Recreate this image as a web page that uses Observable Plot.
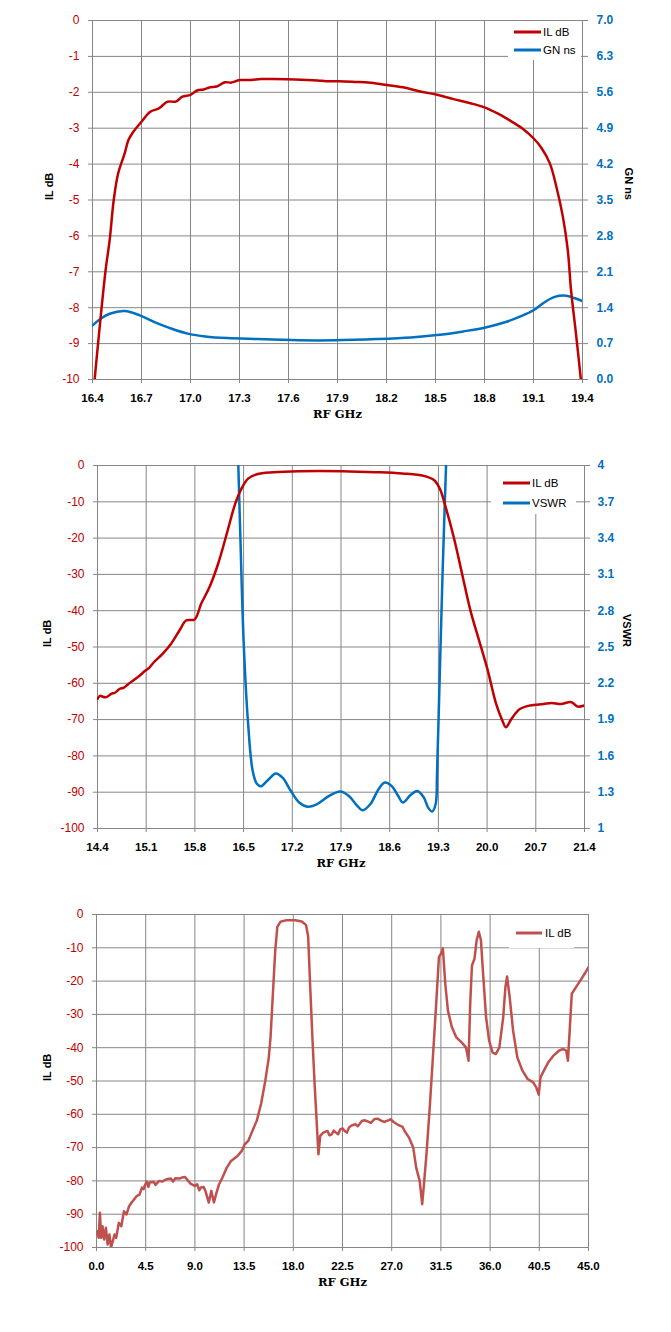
<!DOCTYPE html>
<html>
<head>
<meta charset="utf-8">
<script src="https://cdn.jsdelivr.net/npm/d3@7"></script>
<script src="https://cdn.jsdelivr.net/npm/@observablehq/plot@0.6"></script>
<style>
  html, body { margin: 0; padding: 0; background: #fff; }
  #page { position: relative; width: 671px; height: 1332px; background: #fff; overflow: hidden; }
  .chart { position: absolute; left: 0; }
  .legend { position: absolute; background: #fff; }
  .legend svg { display: block; overflow: visible; }
</style>
</head>
<body>
<div id="page">
  <div class="chart" id="c1" style="top:0px"></div>
  <div class="chart" id="c2" style="top:440px"></div>
  <div class="chart" id="c3" style="top:890px"></div>
</div>
<script>
// ---------------- DATA ----------------
// Chart 1 : passband IL (dB) and group delay GN (ns)
const c1XTicks = [16.4, 16.7, 17.0, 17.3, 17.6, 17.9, 18.2, 18.5, 18.8, 19.1, 19.4];
const c1YTicks = [0, -1, -2, -3, -4, -5, -6, -7, -8, -9, -10];
const c1RightLabels = ["7.0", "6.3", "5.6", "4.9", "4.2", "3.5", "2.8", "2.1", "1.4", "0.7", "0.0"];
const c1IlFreq = [16.413,16.44,16.48,16.505,16.53,16.557,16.597,16.62,16.65,16.70,16.754,16.806,16.86,16.91,16.95,17.00,17.04,17.08,17.12,17.16,17.21,17.25,17.30,17.37,17.43,17.51,17.64,17.78,17.83,17.91,18.01,18.09,18.19,18.30,18.40,18.51,18.61,18.72,18.80,18.88,18.95,19.03,19.10,19.15,19.20,19.24,19.28,19.31,19.33,19.36,19.39];
const c1Il = [-10,-8.72,-6.96,-6.12,-5.0,-4.26,-3.7,-3.33,-3.1,-2.82,-2.54,-2.45,-2.26,-2.26,-2.12,-2.07,-1.95,-1.92,-1.86,-1.84,-1.72,-1.73,-1.66,-1.66,-1.63,-1.63,-1.64,-1.67,-1.69,-1.69,-1.71,-1.73,-1.79,-1.86,-1.97,-2.07,-2.19,-2.31,-2.42,-2.59,-2.77,-3.0,-3.28,-3.56,-3.98,-4.63,-5.47,-6.4,-7.52,-8.72,-10];
const c1GnFreq = [16.40,16.45,16.505,16.597,16.69,16.78,16.885,16.99,17.09,17.225,17.41,17.62,17.78,17.93,18.14,18.35,18.51,18.67,18.80,18.93,19.02,19.10,19.16,19.23,19.30,19.35,19.40];
const c1Gn = [1.055,1.185,1.283,1.335,1.25,1.12,0.99,0.89,0.84,0.807,0.788,0.768,0.762,0.768,0.788,0.82,0.866,0.938,1.01,1.12,1.23,1.35,1.49,1.61,1.634,1.59,1.53];

// Chart 2 : wide IL (dB) and VSWR
const c2XTicks = [14.4, 15.1, 15.8, 16.5, 17.2, 17.9, 18.6, 19.3, 20.0, 20.7, 21.4];
const c2YTicks = [0, -10, -20, -30, -40, -50, -60, -70, -80, -90, -100];
const c2RightLabels = ["4", "3.7", "3.4", "3.1", "2.8", "2.5", "2.2", "1.9", "1.6", "1.3", "1"];
const c2IlFreq = [14.4,14.44,14.474,14.53,14.597,14.65,14.72,14.78,14.843,14.966,15.09,15.15,15.21,15.335,15.458,15.58,15.673,15.796,15.89,16.01,16.135,16.258,16.38,16.47,16.565,16.69,16.93,17.3,17.92,18.41,18.78,19.09,19.24,19.33,19.39,19.52,19.64,19.76,19.885,20.01,20.13,20.22,20.27,20.35,20.47,20.62,20.81,20.93,21.06,21.21,21.3,21.4];
const c2Il = [-64.3,-63.4,-63.7,-63.8,-62.9,-62.6,-61.5,-61.2,-60.2,-58.5,-56.5,-55.6,-54.2,-51.9,-49.1,-45.4,-42.7,-42.4,-38.1,-33.5,-27.0,-18.8,-10.5,-6.35,-3.6,-2.4,-1.84,-1.56,-1.56,-1.84,-2.2,-2.85,-4.05,-6.8,-10.5,-19.7,-29.8,-39.9,-48.2,-56.5,-65.7,-70.3,-72.1,-69.8,-67.1,-66.1,-65.7,-65.4,-65.7,-65.2,-66.4,-66.1];
const c2VFreq = [16.424,16.455,16.50,16.565,16.63,16.69,16.75,16.84,16.965,17.06,17.18,17.30,17.42,17.55,17.73,17.89,18.01,18.13,18.21,18.32,18.44,18.53,18.63,18.72,18.79,18.90,18.995,19.09,19.15,19.21,19.26,19.28,19.32,19.36,19.41];
const c2Vswr = [4.0,3.38,2.55,1.864,1.478,1.37,1.35,1.395,1.455,1.42,1.31,1.215,1.18,1.2,1.27,1.306,1.27,1.19,1.15,1.2,1.325,1.38,1.35,1.27,1.215,1.276,1.31,1.257,1.175,1.14,1.2,1.45,2.28,3.11,4.0];

// Chart 3 : broadband IL (dB)
const c3XTicks = [0, 4.5, 9, 13.5, 18, 22.5, 27, 31.5, 36, 40.5, 45];
const c3YTicks = [0, -10, -20, -30, -40, -50, -60, -70, -80, -90, -100];
const c3Freq = [0.08,0.2,0.31,0.43,0.55,0.7,0.86,1.02,1.18,1.33,1.49,1.65,1.8,2.04,2.27,2.51,2.74,2.98,3.21,3.45,3.68,3.92,
  4.16,4.3,4.47,4.6,4.75,4.86,5.0,5.25,5.4,5.72,6.0,6.43,6.8,7.0,7.21,7.6,7.8,8.1,8.39,8.6,8.98,9.2,9.4,9.56,9.8,9.96,
  10.27,10.5,10.74,10.98,11.21,11.52,11.92,12.31,12.9,13.29,13.56,13.88,14.19,14.66,15.05,15.44,15.76,15.92,16.15,16.35,16.54,16.82,17.4,18.19,18.78,19.17,19.36,19.56,19.76,19.95,20.15,20.3,20.46,
  20.74,21.13,21.3,21.52,21.7,21.91,22.1,22.3,22.5,22.7,22.9,23.09,23.3,23.68,23.9,24.27,24.5,24.85,25.1,25.44,25.7,26.03,26.3,26.62,26.9,27.2,27.5,27.79,28.0,28.18,
  28.58,28.97,29.24,29.56,29.79,29.95,30.18,30.46,30.73,31.05,31.32,31.52,31.68,31.9,32.14,32.5,32.89,33.48,33.79,34.03,34.18,34.34,34.57,34.77,34.97,35.16,35.36,35.63,35.91,36.22,36.53,36.85,37.2,37.4,37.55,37.79,38.1,38.49,38.96,39.43,39.94,40.22,40.45,40.61,40.92,41.32,41.79,42.3,42.69,42.96,43.12,43.28,43.47,43.86,44.26,44.65,45.0];
const c3Il = [-95.1,-97.1,-89.6,-97.1,-93.6,-97.6,-94.1,-99.1,-96.1,-100,-98.1,-96.1,-97.1,-92.6,-93.6,-89.1,-90.1,-87.6,-86.5,-85.5,-84.5,-84.2,
  -82.0,-82.5,-81.0,-80.2,-81.8,-80.5,-80.4,-80.3,-81.2,-80.0,-80.2,-79.5,-79.3,-80.2,-79.2,-79.3,-79.0,-78.8,-80.0,-80.8,-81.5,-81.0,-82.8,-82.0,-81.8,-83.0,
  -86.5,-83.0,-86.5,-83.5,-81.0,-79.0,-76.0,-74.0,-72.5,-71.0,-69.0,-68.0,-65.5,-61.9,-56.9,-49.9,-42.9,-36.8,-22.8,-10.7,-3.7,-2.2,-1.7,-1.7,-2.1,-3.2,-6.7,-22.8,-37.9,-50.9,-63,-72,-66.5,
  -65.5,-65.0,-66.3,-66.0,-64.9,-65.5,-66.0,-64.5,-64.2,-65.0,-65.5,-64.0,-63.4,-63.0,-63.6,-62.0,-61.8,-62.2,-62.6,-61.4,-61.3,-61.9,-62.3,-61.9,-61.5,-62.4,-63.0,-63.5,-63.8,-65.0,
  -67.0,-70.0,-76.0,-80.0,-87.0,-81.0,-72.0,-58.9,-44.9,-27.8,-12.8,-11.7,-10.2,-20.8,-28.8,-33.8,-36.8,-38.7,-39.9,-43.9,-26.8,-15.3,-13.3,-7.7,-5.2,-7.7,-17.8,-30.8,-37.9,-41.4,-41.9,-39.9,-30.8,-21.8,-18.6,-24.8,-34.8,-42.9,-46.9,-49.4,-50.4,-51.9,-54.1,-48.9,-46.9,-44.4,-42.4,-40.9,-40.4,-40.9,-43.9,-34.8,-23.8,-21.8,-19.8,-17.8,-15.8];

// ---------------- STYLE ----------------
const RED = "#c00000";
const BLUE = "#0070c0";
const RED3 = "#c0504d";
const GRID = "#868686";
const SANS = "'Liberation Sans', Arial, sans-serif";
const SERIF = "'DejaVu Serif', 'Liberation Serif', serif";

function zip(xs, ys) { return xs.map((x, i) => ({x, y: ys[i]})); }

function baseMarks(xTicks, yTicks, xFmt) {
  return [
    Plot.gridX({ticks: xTicks, stroke: GRID, strokeOpacity: 1, strokeWidth: 1}),
    Plot.gridY({ticks: yTicks, stroke: GRID, strokeOpacity: 1, strokeWidth: 1}),
    Plot.axisX({ticks: xTicks, tickFormat: xFmt, tickSize: 4, tickPadding: 10, color: "#000", stroke: GRID,
      fontWeight: "bold", fontSize: 11.5, fontFamily: SANS, label: null}),
    Plot.axisY({anchor: "left", ticks: yTicks, tickFormat: d => String(d), tickSize: 4, tickPadding: 9,
      color: RED, stroke: GRID, fontSize: 12, fontFamily: SANS, label: null})
  ];
}

function titleMarks(leftDx, rightTitle, rightDx) {
  const m = [
    Plot.text(["RF GHz"], {text: d => d, frameAnchor: "bottom", dy: 38, fontFamily: SERIF, fontWeight: "bold", fontSize: 11.5, fill: "#000"}),
    Plot.text(["IL dB"], {text: d => d, frameAnchor: "left", dx: leftDx, rotate: -90, fontFamily: SANS, fontWeight: "bold", fontSize: 11, fill: "#000"})
  ];
  if (rightTitle) m.push(Plot.text([rightTitle], {text: d => d, frameAnchor: "right", dx: rightDx, rotate: 90, fontFamily: SANS, fontWeight: "bold", fontSize: 11, fill: "#000"}));
  return m;
}

// ---------------- CHART 1 ----------------
const c1IlData = zip(c1IlFreq, c1Il);
const c1GnData = zip(c1GnFreq, c1Gn);
const chart1 = Plot.plot({
  width: 671, height: 440,
  marginTop: 20, marginBottom: 61, marginLeft: 92, marginRight: 89,
  style: {fontFamily: SANS, background: "transparent", overflow: "visible"},
  x: {domain: [16.4, 19.4]},
  y: {domain: [-10, 0]},
  marks: [
    ...baseMarks(c1XTicks, c1YTicks, d => d.toFixed(1)),
    Plot.axisY({anchor: "right", ticks: c1YTicks, tickFormat: d => c1RightLabels[c1YTicks.indexOf(d)],
      tickSize: 5, tickPadding: 9, color: BLUE, stroke: GRID, fontWeight: "bold", fontSize: 12, fontFamily: SANS, label: null}),
    Plot.line(c1GnData, {x: "x", y: d => -10 + d.y * 10 / 7, stroke: BLUE, strokeWidth: 2.5, curve: "catmull-rom", clip: true}),
    Plot.line(c1IlData, {x: "x", y: "y", stroke: RED, strokeWidth: 2.5, curve: "catmull-rom", clip: true}),
    ...titleMarks(-43, "GN ns", 46)
  ]
});
document.getElementById("c1").appendChild(chart1);

// ---------------- CHART 2 ----------------
const c2IlData = zip(c2IlFreq, c2Il);
const c2VData = zip(c2VFreq, c2Vswr);
const chart2 = Plot.plot({
  width: 671, height: 450,
  marginTop: 25, marginBottom: 62, marginLeft: 97, marginRight: 87,
  style: {fontFamily: SANS, background: "transparent", overflow: "visible"},
  x: {domain: [14.4, 21.4]},
  y: {domain: [-100, 0]},
  marks: [
    ...baseMarks(c2XTicks, c2YTicks, d => d.toFixed(1)),
    Plot.axisY({anchor: "right", ticks: c2YTicks, tickFormat: d => c2RightLabels[c2YTicks.indexOf(d)],
      tickSize: 5, tickPadding: 8, color: BLUE, stroke: GRID, fontWeight: "bold", fontSize: 12, fontFamily: SANS, label: null}),
    Plot.line(c2VData, {x: "x", y: d => -100 + (d.y - 1) * 100 / 3, stroke: BLUE, strokeWidth: 2.5, curve: "catmull-rom", clip: true}),
    Plot.line(c2IlData, {x: "x", y: "y", stroke: RED, strokeWidth: 2.5, curve: "catmull-rom", clip: true}),
    ...titleMarks(-50, "VSWR", 42)
  ]
});
document.getElementById("c2").appendChild(chart2);

// ---------------- CHART 3 ----------------
const c3Data = zip(c3Freq, c3Il);
const chart3 = Plot.plot({
  width: 671, height: 442,
  marginTop: 24, marginBottom: 85, marginLeft: 96, marginRight: 83,
  style: {fontFamily: SANS, background: "transparent", overflow: "visible"},
  x: {domain: [0, 45]},
  y: {domain: [-100, 0]},
  marks: [
    ...baseMarks(c3XTicks, c3YTicks, d => d.toFixed(1)),
    Plot.line(c3Data, {x: "x", y: "y", stroke: RED3, strokeWidth: 2.5, clip: true}),
    ...titleMarks(-49, null, 0)
  ]
});
document.getElementById("c3").appendChild(chart3);

// ---------------- LEGENDS ----------------
function legend(left, top, w, h, entries, lineX0, lineX1, textX) {
  const div = document.createElement("div");
  div.className = "legend";
  div.style.left = left + "px"; div.style.top = top + "px";
  div.style.width = w + "px"; div.style.height = h + "px";
  let s = `<svg width="${w}" height="${h}" xmlns="http://www.w3.org/2000/svg">`;
  for (const e of entries) {
    s += `<line x1="${lineX0}" x2="${lineX1}" y1="${e.y}" y2="${e.y}" stroke="${e.color}" stroke-width="3"/>`;
    s += `<text x="${textX}" y="${e.y}" dy="0.36em" font-family="${SANS.replace(/'/g, "")}" font-size="11.5" fill="#000">${e.label}</text>`;
  }
  s += "</svg>";
  div.innerHTML = s;
  document.getElementById("page").appendChild(div);
}
legend(508, 21, 73, 39, [{label: "IL dB", color: RED, y: 11}, {label: "GN ns", color: BLUE, y: 29}], 6, 33, 35);
legend(491, 466, 85, 48, [{label: "IL dB", color: RED, y: 17}, {label: "VSWR", color: BLUE, y: 37}], 12, 39, 41);
legend(509, 915, 65, 33, [{label: "IL dB", color: RED3, y: 18}], 7, 33, 36);
</script>
</body>
</html>
